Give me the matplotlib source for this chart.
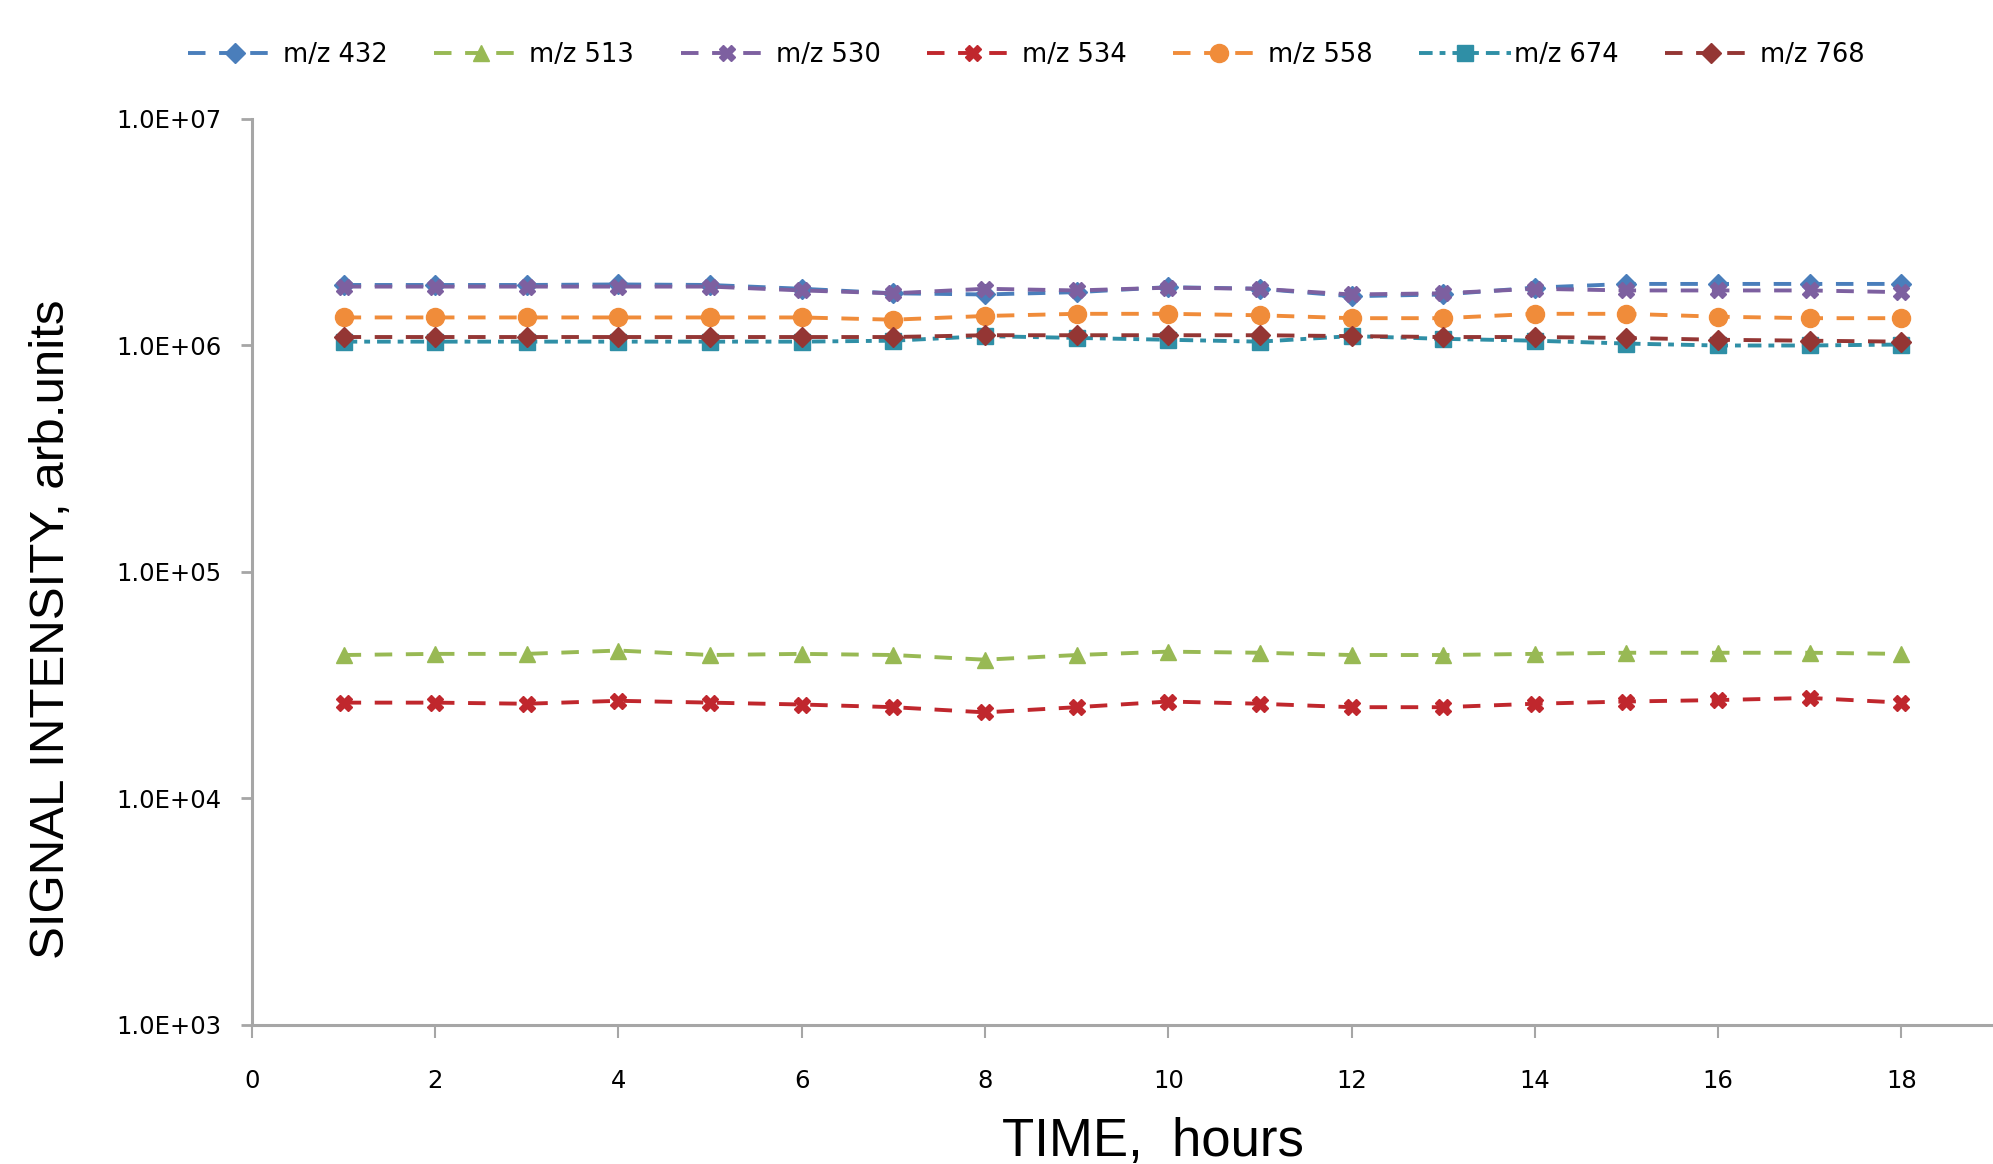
import matplotlib
matplotlib.use("Agg")
import matplotlib.pyplot as plt
from matplotlib.ticker import FixedLocator, FixedFormatter, NullLocator

hours = list(range(1, 19))

mz432 = [1.85e6, 1.85e6, 1.85e6, 1.86e6, 1.85e6, 1.78e6, 1.70e6, 1.68e6, 1.72e6,
         1.81e6, 1.78e6, 1.65e6, 1.68e6, 1.80e6, 1.87e6, 1.87e6, 1.87e6, 1.87e6]
mz513 = [4.30e4, 4.35e4, 4.35e4, 4.50e4, 4.30e4, 4.35e4, 4.30e4, 4.10e4, 4.30e4,
         4.45e4, 4.40e4, 4.30e4, 4.30e4, 4.35e4, 4.40e4, 4.40e4, 4.40e4, 4.35e4]
mz530 = [1.82e6, 1.82e6, 1.82e6, 1.82e6, 1.82e6, 1.75e6, 1.70e6, 1.78e6, 1.75e6,
         1.80e6, 1.78e6, 1.68e6, 1.70e6, 1.78e6, 1.75e6, 1.75e6, 1.75e6, 1.72e6]
mz534 = [2.65e4, 2.65e4, 2.62e4, 2.70e4, 2.65e4, 2.60e4, 2.53e4, 2.40e4, 2.53e4,
         2.68e4, 2.62e4, 2.53e4, 2.53e4, 2.62e4, 2.68e4, 2.72e4, 2.78e4, 2.65e4]
mz558 = [1.33e6, 1.33e6, 1.33e6, 1.33e6, 1.33e6, 1.33e6, 1.30e6, 1.35e6, 1.38e6,
         1.38e6, 1.36e6, 1.32e6, 1.32e6, 1.38e6, 1.38e6, 1.34e6, 1.32e6, 1.32e6]
mz674 = [1.04e6, 1.04e6, 1.04e6, 1.04e6, 1.04e6, 1.04e6, 1.05e6, 1.10e6, 1.08e6,
         1.06e6, 1.04e6, 1.10e6, 1.07e6, 1.05e6, 1.02e6, 1.00e6, 1.00e6, 1.01e6]
mz768 = [1.09e6, 1.09e6, 1.09e6, 1.09e6, 1.09e6, 1.09e6, 1.09e6, 1.11e6, 1.11e6,
         1.11e6, 1.11e6, 1.10e6, 1.09e6, 1.09e6, 1.08e6, 1.06e6, 1.05e6, 1.04e6]

labels = ["m/z 432", "m/z 513", "m/z 530", "m/z 534", "m/z 558", "m/z 674", "m/z 768"]
series = [mz432, mz513, mz530, mz534, mz558, mz674, mz768]
colors = ["#4A7EBB", "#98B954", "#7D60A0", "#C0272D", "#F08C3A", "#2F8FA6", "#943634"]
markers = ["D", "^", "X", "X", "o", "s", "D"]
msizes = [10, 12, 12, 12, 13, 12, 10]
dash = (0, (4.5, 3.5))
styles = [dash, dash, dash, dash, dash, (0, (3.5, 1.8, 1.5, 1.8)), dash]

yticks = [1e3, 1e4, 1e5, 1e6, 1e7]
ytick_labels = ["1.0E+03", "1.0E+04", "1.0E+05", "1.0E+06", "1.0E+07"]
xticks = list(range(0, 19, 2))

plt.rcParams['font.family'] = ['DejaVu Sans']

fig = plt.figure(figsize=(19.93, 11.64), dpi=100)
ax = fig.add_axes([0.12644, 0.11942, 0.8735, 0.77835])

handles = []
for vals, lab, c, m, ms, ls in zip(series, labels, colors, markers, msizes, styles):
    h, = ax.plot(hours, vals, color=c, linestyle=ls, linewidth=2.8,
                 marker=m, markersize=ms, markerfacecolor=c, markeredgecolor=c,
                 label=lab)
    handles.append(h)

ax.set_yscale("log")
ax.set_ylim(1e3, 1e7)
ax.set_xlim(0, 19)
ax.yaxis.set_major_locator(FixedLocator(yticks))
ax.yaxis.set_major_formatter(FixedFormatter(ytick_labels))
ax.yaxis.set_minor_locator(NullLocator())
ax.set_xticks(xticks)
ax.set_xticklabels([str(t) for t in xticks])

for s in ["top", "right"]:
    ax.spines[s].set_visible(False)
for s in ["left", "bottom"]:
    ax.spines[s].set_color("#A6A6A6")
    ax.spines[s].set_linewidth(2.2)

ax.tick_params(axis="y", direction="out", length=8, width=2, color="#A6A6A6",
               pad=14, labelsize=17.5)
ax.tick_params(axis="x", direction="out", length=9, width=1.5, color="#A6A6A6",
               pad=23, labelsize=17.5)

fig.text(0.0256, 0.4596, "SIGNAL INTENSITY, arb.units", rotation=90,
         ha="center", va="center", fontsize=35.5, family="Liberation Sans")
fig.text(0.5785, 0.007, "TIME,  hours", ha="center", va="baseline",
         fontsize=38, family="Liberation Sans")

fig.legend(handles=handles, labels=labels, loc="center", ncol=7,
           bbox_to_anchor=(0.515, 0.953), frameon=False, fontsize=18.5,
           handlelength=3.6, handletextpad=0.1, columnspacing=1.8,
           borderaxespad=0)

fig.savefig("out.png", dpi=100)
